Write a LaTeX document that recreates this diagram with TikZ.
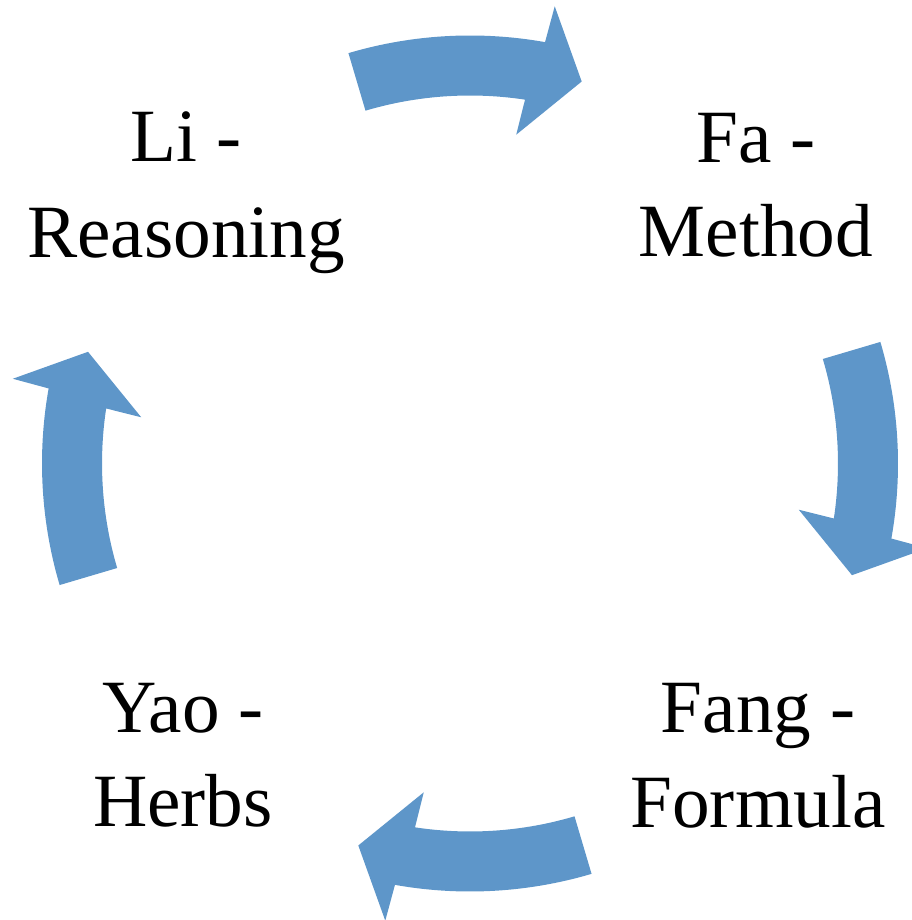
\documentclass[tikz,border=0pt]{standalone}
\usepackage{fontspec}
\setmainfont{Liberation Serif}
\definecolor{cycblue}{RGB}{94,150,201}
\newcommand\cycarrow[1]{%
  \fill[cyc] ({#1+16.5}:428) arc[start angle={#1+16.5}, end angle={#1-10.1}, radius=428]
    -- ({#1-10.5}:465) -- ({#1-16.3}:398) -- ({#1-8}:332) -- ({#1-8.6}:368)
    arc[start angle={#1-8.6}, end angle={#1+16.5}, radius=368] -- cycle;}
\begin{document}
\begin{tikzpicture}[x=0.025cm,y=0.025cm,
  cyc/.style={fill=cycblue},
  lbl/.style={anchor=base,inner sep=0pt,font=\fontsize{53.5}{68}\selectfont}]
\useasboundingbox (0,0) rectangle (912,920);
\begin{scope}[shift={(470,456.5)}]
  \cycarrow{90}
  \cycarrow{0}
  \cycarrow{-90}
  \cycarrow{180}
\end{scope}
\node[lbl] (li1) at (186,758) {Li -};
\node[lbl] (li2) at (186,662) {Reasoning};
\node[lbl] (fa1) at (756,757) {Fa -};
\node[lbl] (fa2) at (756,663) {Method};
\node[lbl] (yao1) at (183,187) {Yao -};
\node[lbl] (yao2) at (183,93) {Herbs};
\node[lbl] (fang1) at (758,187) {Fang -};
\node[lbl] (fang2) at (758,92) {Formula};
\end{tikzpicture}
\end{document}
